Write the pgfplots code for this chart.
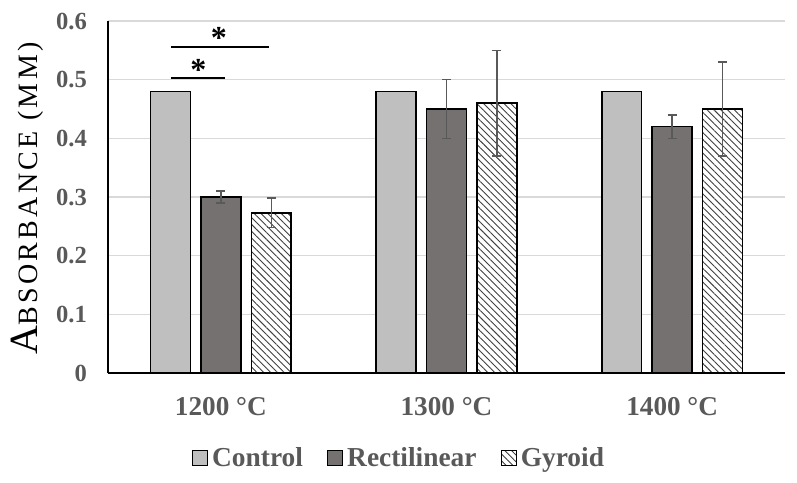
\documentclass[border=0pt]{standalone}
\usepackage{pgfplots}
\pgfplotsset{compat=1.18}
\usepackage{fontspec}
\setmainfont{Liberation Serif}
\newfontfamily\lsfont[LetterSpace=12]{Liberation Serif}
\usetikzlibrary{patterns.meta}
\definecolor{ctrl}{HTML}{BFBFBF}
\definecolor{rectc}{HTML}{767171}
\definecolor{txt}{HTML}{595959}
\definecolor{gridc}{HTML}{D9D9D9}
\definecolor{hatch}{HTML}{404040}
\pgfplotsset{sqlegend/.style={legend image code/.code={\draw[##1,line width=0.6pt] (0pt,-3.75pt) rectangle (7.5pt,3.75pt);}}}
\begin{document}
\begin{tikzpicture}
\path[use as bounding box] (0,0) rectangle (398.5pt,241pt);
\begin{axis}[
  at={(54pt,54.5pt)}, anchor=south west,
  scale only axis, width=338.5pt, height=176pt,
  xmin=-0.5, xmax=2.5, ymin=0, ymax=0.6,
  ybar=5.25pt, bar width=19.97pt,
  xtick={0,1,2}, xticklabels={1200 °C,1300 °C,1400 °C},
  ytick={0,0.1,0.2,0.3,0.4,0.5,0.6},
  yticklabels={0,0.1,0.2,0.3,0.4,0.5,0.6},
  axis x line*=bottom, axis y line*=left,
  axis line style={-, black, line width=0.75pt},
  major tick length=0pt,
  ymajorgrids, grid style={gridc, line width=0.6pt},
  xticklabel style={font=\fontsize{13.6}{15}\selectfont\bfseries, text=txt, yshift=-8.5pt},
  yticklabel style={font=\fontsize{12.3}{14}\selectfont\bfseries, text=txt, xshift=-7pt},
  legend style={at={(axis description cs:0.4313,-0.2415)}, anchor=center, draw=none, fill=none,
    legend columns=3, font=\fontsize{13.7}{15}\selectfont\bfseries, text=txt,
    /tikz/every even column/.style={column sep=10pt}},
  clip=false,
]
\addplot[fill=ctrl, draw=black, line width=0.75pt, sqlegend]
  coordinates {(0,0.48) (1,0.48) (2,0.48)};
\addplot[fill=rectc, draw=black, line width=0.75pt, sqlegend,
  error bars/.cd, y dir=both, y explicit,
  error bar style={color=txt, line width=0.75pt},
  error mark options={rotate=90, mark size=2.25pt, color=txt, line width=0.75pt}]
  coordinates {(0,0.30) +- (0,0.01) (1,0.45) +- (0,0.05) (2,0.42) +- (0,0.02)};
\addplot[fill=white, draw=black, line width=0.75pt, sqlegend,
  postaction={pattern={Lines[angle=-45,distance=2.4pt,line width=0.45pt]}, pattern color=hatch},
  error bars/.cd, y dir=both, y explicit,
  error bar style={color=txt, line width=0.75pt},
  error mark options={rotate=90, mark size=2.25pt, color=txt, line width=0.75pt}]
  coordinates {(0,0.273) +- (0,0.025) (1,0.46) +- (0,0.09) (2,0.45) +- (0,0.08)};
\addplot[sharp plot, black, line width=0.6pt, forget plot] coordinates {(-0.221,0.5557) (0.212,0.5557)};
\addplot[sharp plot, black, line width=0.6pt, forget plot] coordinates {(-0.221,0.503) (0.018,0.503)};
\node[font=\fontsize{16}{16}\selectfont\bfseries, yshift=-2.5pt] at (axis cs:-0.009,0.58) {*};
\node[font=\fontsize{16}{16}\selectfont\bfseries, yshift=-2.5pt] at (axis cs:-0.10,0.525) {*};
\legend{Control, Rectilinear, Gyroid}
\end{axis}
\node[rotate=90, anchor=base, inner sep=0pt] at (18.5pt,141.75pt)
  {{\fontsize{20}{20}\selectfont A}{\lsfont\fontsize{14}{14}\selectfont BSORBANCE (MM)}};
\end{tikzpicture}
\end{document}
